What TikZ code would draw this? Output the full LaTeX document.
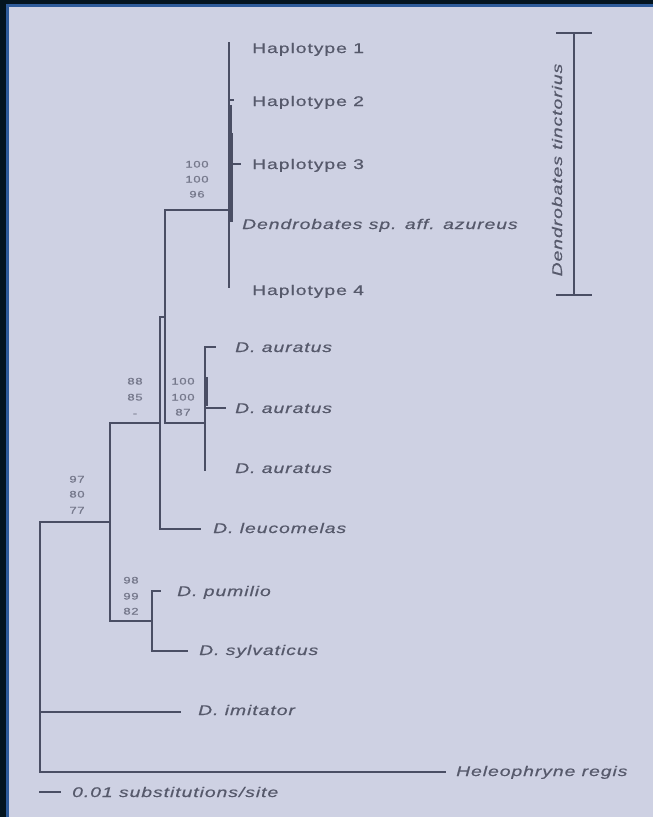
\documentclass[tikz,border=0pt]{standalone}
\usepackage{fontspec}
\setmainfont{Liberation Sans}[LetterSpace=5,FakeBold=0.4]
\usepackage{graphicx}
\definecolor{bgc}{HTML}{CED1E3}
\definecolor{darkc}{HTML}{03141F}
\definecolor{bluec}{HTML}{2E5B9A}
\definecolor{linec}{HTML}{4A4E64}
\definecolor{textc}{HTML}{56596B}
\definecolor{supc}{HTML}{74778A}
\newcommand\stretchtxt[1]{\scalebox{1.38}[1]{#1}}
\begin{document}
\begin{tikzpicture}[x=1pt,y=-1pt,
  br/.style={line width=2.3pt, draw=linec, line cap=rect},
  lab/.style={anchor=west, inner sep=0pt, text=textc, font=\fontsize{14}{16}\selectfont\itshape, text height=10pt, text depth=0pt},
  hap/.style={lab, font=\fontsize{14}{16}\selectfont},
  sup/.style={inner sep=0pt, text=supc, font=\fontsize{9.5}{10}\selectfont, text height=7pt, text depth=0pt}]
\useasboundingbox (0,0) rectangle (653,817);
% background and frame
\fill[bgc] (0,0) rectangle (653,817);
\fill[darkc] (0,0) rectangle (653,4);
\fill[darkc] (0,0) rectangle (6,817);
\fill[bluec] (6,4) rectangle (653,7);
\fill[bluec] (6,4) rectangle (8.5,817);

% coordinates
\coordinate (rootT) at (40,522);
\coordinate (rootI) at (40,712);
\coordinate (tHel) at (445,772);
\coordinate (tImi) at (180,712);
\coordinate (nA) at (110,522);
\coordinate (nAT) at (110,423);
\coordinate (nAB) at (110,621);
\coordinate (nP) at (152,621);
\coordinate (nPT) at (152,591);
\coordinate (nPB) at (152,651);
\coordinate (tPum) at (160,591);
\coordinate (tSyl) at (187,651);
\coordinate (nB) at (160,423);
\coordinate (nBT) at (160,317);
\coordinate (nBB) at (160,529);
\coordinate (tLeu) at (200,529);
\coordinate (nC) at (165,317);
\coordinate (nCT) at (165,210);
\coordinate (nCB) at (165,423);
\coordinate (nAu) at (205,423);
\coordinate (nAuT) at (205,347);
\coordinate (nAuB) at (205,470);
\coordinate (nAuI) at (205,408);
\coordinate (tAu1) at (215,347);
\coordinate (tAu2) at (225,408);
\coordinate (nT) at (229,210);
\coordinate (nTT) at (229,43);
\coordinate (nTB) at (229,287);
\coordinate (nH2) at (229,100);
\coordinate (tH2) at (233,100);
\coordinate (nH3) at (231,164);
\coordinate (tH3) at (240,164);
\coordinate (sbL) at (40,792);
\coordinate (sbR) at (60,792);
\coordinate (barT) at (574,33);
\coordinate (barB) at (574,295);

% branches
\draw[br] (tHel) -| (rootT) -- (nA);
\draw[br] (rootI) -- (tImi);
\draw[br] (nAT) -- (nAB) -- (nP);
\draw[br] (tPum) -- (nPT) -- (nPB) -- (tSyl);
\draw[br] (nAT) -- (nB);
\draw[br] (nC) -- (nBT) -- (nBB) -- (tLeu);
\draw[br] (nT) -- (nCT) -- (nCB) -- (nAu);
\draw[br] (tAu1) -- (nAuT) -- (nAuB);
\draw[br] (nAuI) -- (tAu2);
\draw[line width=3pt, draw=linec] (206,377) -- (206,406);
\draw[br] (nTT) -- (nTB);
\draw[br] (nH2) -- (tH2);
\draw[line width=3pt, draw=linec] (230.5,105) -- (230.5,222);
\draw[line width=4pt, draw=linec] (231,133) -- (231,222);
\draw[br] (nH3) -- (tH3);
\draw[br] (sbL) -- (sbR);

% species bar
\draw[line width=1.8pt, draw=linec] (556,33) -- (592,33);
\draw[line width=1.8pt, draw=linec] (556,295) -- (592,295);
\draw[line width=1.8pt, draw=linec] (barT) -- (barB);
\node[lab, anchor=center, rotate=90] (tinct) at (557,170) {\stretchtxt{Dendrobates tinctorius}};

% leaf labels
\node[hap] (h1) at (252,48) {\stretchtxt{Haplotype 1}};
\node[hap] (h2) at (252,101) {\stretchtxt{Haplotype 2}};
\node[hap] (h3) at (252,164) {\stretchtxt{Haplotype 3}};
\node[lab] (daz) at (242,224) {\stretchtxt{Dendrobates sp. aff. azureus}};
\node[hap] (h4) at (252,290) {\stretchtxt{Haplotype 4}};
\node[lab] (au1) at (235,347) {\stretchtxt{D. auratus}};
\node[lab] (au2) at (235,408) {\stretchtxt{D. auratus}};
\node[lab] (au3) at (235,468) {\stretchtxt{D. auratus}};
\node[lab] (leu) at (213,528) {\stretchtxt{D. leucomelas}};
\node[lab] (pum) at (177,591) {\stretchtxt{D. pumilio}};
\node[lab] (syl) at (199,650) {\stretchtxt{D. sylvaticus}};
\node[lab] (imi) at (198,710) {\stretchtxt{D. imitator}};
\node[lab] (hel) at (456,771) {\stretchtxt{Heleophryne regis}};
\node[lab] (scale) at (72,792) {\stretchtxt{0.01 substitutions/site}};

% support values
\node[sup] (s1a) at (197,164) {\stretchtxt{100}};
\node[sup] (s1b) at (197,179) {\stretchtxt{100}};
\node[sup] (s1c) at (197,194) {\stretchtxt{96}};
\node[sup] (s2a) at (135,381) {\stretchtxt{88}};
\node[sup] (s2b) at (135,397) {\stretchtxt{85}};
\node[sup] (s2c) at (135,413) {\stretchtxt{-}};
\node[sup] (s3a) at (183,381) {\stretchtxt{100}};
\node[sup] (s3b) at (183,397) {\stretchtxt{100}};
\node[sup] (s3c) at (183,412) {\stretchtxt{87}};
\node[sup] (s4a) at (77,479) {\stretchtxt{97}};
\node[sup] (s4b) at (77,494) {\stretchtxt{80}};
\node[sup] (s4c) at (77,510) {\stretchtxt{77}};
\node[sup] (s5a) at (131,580) {\stretchtxt{98}};
\node[sup] (s5b) at (131,596) {\stretchtxt{99}};
\node[sup] (s5c) at (131,611) {\stretchtxt{82}};
\end{tikzpicture}
\end{document}
